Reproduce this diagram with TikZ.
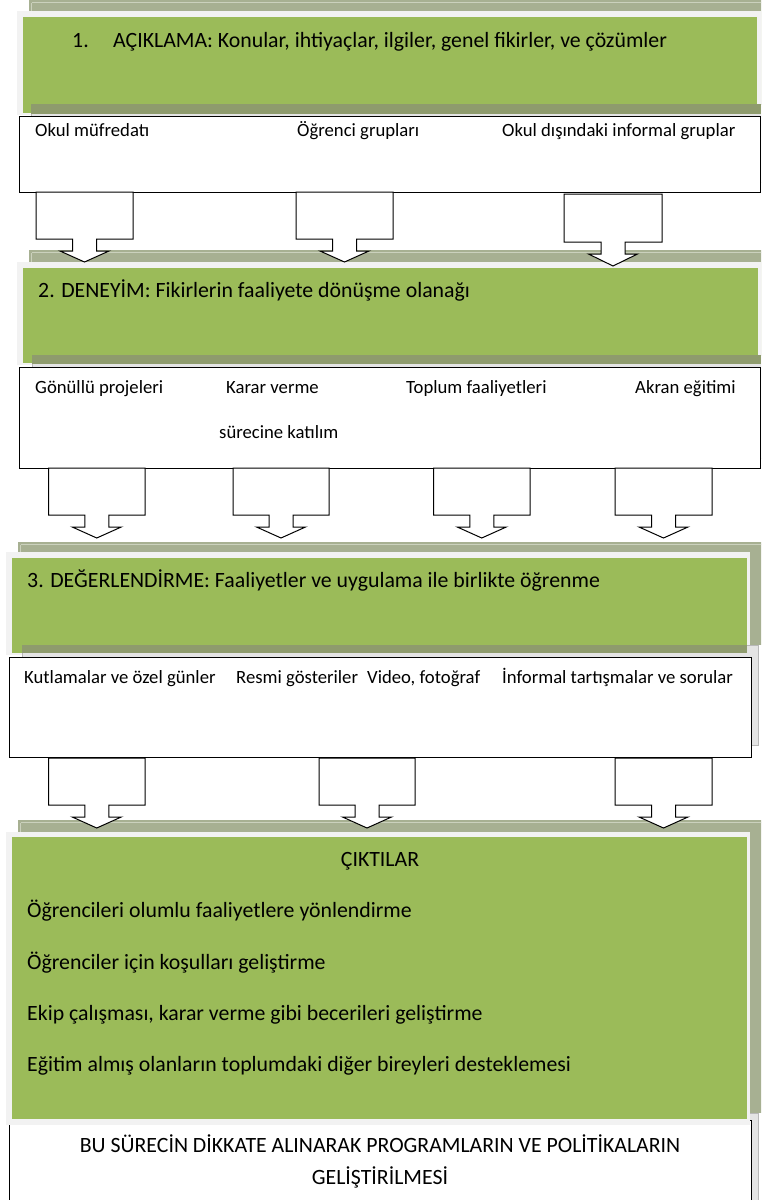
\documentclass[tikz,border=0pt]{standalone}
\usepackage{fontspec}
\setmainfont{Carlito}
\definecolor{ogreen}{HTML}{9BBB59}
\definecolor{framec}{HTML}{F2F2F2}
\definecolor{bandc}{HTML}{A7B092}
\definecolor{bandl}{HTML}{CBD1BD}
\definecolor{darkb}{HTML}{8E9B6D}
\definecolor{shadc}{HTML}{E4E4E4}
\definecolor{shadl}{HTML}{B8B8B8}
\newcommand\calloutdown[6]{%
  \draw[callout] (#1,#3) -- (#2,#3) -- (#2,#4) -- ({(#1+#2)/2+12},#4) -- ({(#1+#2)/2+12},#5)
   -- ({(#1+#2)/2+24.5},#5) -- ({(#1+#2)/2},#6) -- ({(#1+#2)/2-24.5},#5) -- ({(#1+#2)/2-12},#5)
   -- ({(#1+#2)/2-12},#4) -- (#1,#4) -- cycle;}
\newcommand\greensection[8]{%
  % #1 band left, #2 band top, #3 frame left, #4 frame top, #5 frame right, #6 frame bottom, #7 green right, #8 green bottom
  \fill[band] (#1,#2) rectangle (775,{#4+(#6-#4)-10});
  \draw[bandline] (#1+2.5,#2+2.5) -- (775,#2+2.5);
  \draw[bandline] (#1+2.5,#2+2.5) -- (#1+2.5,{#6-10});
  \fill[frm] (#3,#4) rectangle (#5,#6);
  \fill[grn] (#3+6,#4+5.5) rectangle (#7,#8);}
\begin{document}
\begin{tikzpicture}[x=1pt,y=-1pt,
  band/.style={fill=bandc},
  bandline/.style={draw=bandl, line width=1pt},
  frm/.style={fill=framec},
  grn/.style={fill=ogreen},
  dark/.style={fill=darkb},
  shad/.style={fill=shadc, draw=shadl, line width=0.8pt},
  wbox/.style={draw=black, fill=white, line width=1pt},
  lbl/.style={anchor=base west, inner sep=0pt, font=\fontsize{18.7}{22}\selectfont},
  ttl/.style={anchor=base west, inner sep=0pt, font=\fontsize{21.8}{26}\selectfont},
  ctr/.style={anchor=base, inner sep=0pt, font=\fontsize{21.8}{26}\selectfont},
  callout/.style={draw=black, fill=white, line width=1pt, line join=miter}]
\useasboundingbox (0,0) rectangle (761,1200);
\clip (0,0) rectangle (761,1200);
\fill[white] (0,0) rectangle (761,1200);

% ---------- section 1
\greensection{29}{0}{17}{11}{761}{115}{757}{113}
\fill[shad] (31,104) rectangle (770,182);
\fill[dark] (31,104) rectangle (761,114);
\draw[wbox] (19,116) rectangle (760,192);
\node[ttl] (t1) at (72,47) {\makebox[41pt][l]{1.}AÇIKLAMA: Konular, ihtiyaçlar, ilgiler, genel fikirler, ve çözümler};
\node[lbl] (a1) at (35,136) {Okul müfredatı};
\node[lbl] (a2) at (297,136) {Öğrenci grupları};
\node[lbl] (a3) at (502,136) {Okul dışındaki informal gruplar};

% ---------- section 2
\greensection{29}{250}{17}{262}{761}{365}{758}{363}
\fill[shad] (32,355) rectangle (770,458);
\fill[dark] (32,355) rectangle (761,364);
\draw[wbox] (19,367) rectangle (760,468);
\node[ttl] (t2) at (38,297) {2. DENEYİM: Fikirlerin faaliyete dönüşme olanağı};
\node[lbl] (b1) at (35,393) {Gönüllü projeleri};
\node[lbl] (b2) at (226,393) {Karar verme};
\node[lbl] (b2b) at (219,438) {sürecine katılım};
\node[lbl] (b3) at (406,393) {Toplum faaliyetleri};
\node[lbl] (b4) at (635,393) {Akran eğitimi};

% ---------- section 3
\greensection{18}{542}{6}{552}{750}{655}{747}{653}
\draw[shad] (22,645) rectangle (758,745);
\fill[dark] (22,645) rectangle (747,653);
\draw[wbox] (9,657) rectangle (751,757);
\node[ttl] (t3) at (27,587) {3. DEĞERLENDİRME: Faaliyetler ve uygulama ile birlikte öğrenme};
\node[lbl] (c1) at (24,683) {Kutlamalar ve özel günler};
\node[lbl] (c2) at (236,683) {Resmi gösteriler};
\node[lbl] (c3) at (367,683) {Video, fotoğraf};
\node[lbl] (c4) at (502,683) {İnformal tartışmalar ve sorular};

% ---------- section 4 (outputs) and final box
\fill[band] (18,820) rectangle (775,1113);
\draw[bandline] (20.5,822.5) -- (775,822.5);
\draw[bandline] (20.5,822.5) -- (20.5,1113);
\draw[shad] (22,1113) rectangle (758,1230);
\draw[wbox] (9,1120) rectangle (751,1230);
\fill[frm] (6,832) rectangle (750,1125);
\fill[grn] (12,837) rectangle (747,1119);
\node[ctr] (o0) at (380,866) {ÇIKTILAR};
\node[ttl] (o1) at (27,917) {Öğrencileri olumlu faaliyetlere yönlendirme};
\node[ttl] (o2) at (27,969) {Öğrenciler için koşulları geliştirme};
\node[ttl] (o3) at (27,1020) {Ekip çalışması, karar verme gibi becerileri geliştirme};
\node[ttl] (o4) at (27,1071) {Eğitim almış olanların toplumdaki diğer bireyleri desteklemesi};
\node[ctr] (f1) at (380,1152) {BU SÜRECİN DİKKATE ALINARAK PROGRAMLARIN VE POLİTİKALARIN};
\node[ctr] (f2) at (380,1184) {GELİŞTİRİLMESİ};

% ---------- callout arrows
\calloutdown{36}{133}{192}{239}{251}{262}
\calloutdown{296}{393}{192}{239}{251}{262}
\calloutdown{564}{662}{194}{242}{254}{266}
\calloutdown{48.5}{145}{468}{515}{527}{538}
\calloutdown{233}{329}{468}{515}{527}{538}
\calloutdown{433.5}{530}{468}{515}{527}{538}
\calloutdown{615}{712}{468}{515}{527}{538}
\calloutdown{48.5}{145}{758}{805}{817}{828}
\calloutdown{319}{415}{758}{805}{817}{828}
\calloutdown{615}{712}{758}{805}{817}{828}
\end{tikzpicture}
\end{document}
